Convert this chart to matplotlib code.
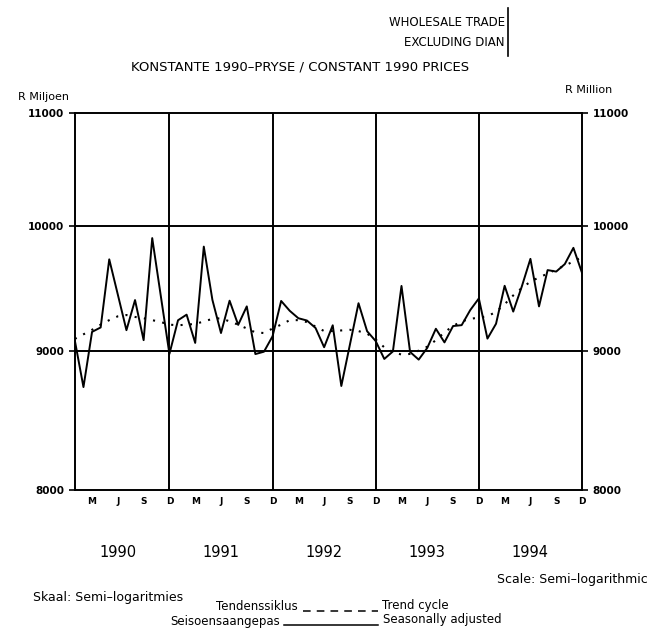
import numpy as np
import matplotlib
matplotlib.use("Agg")
import matplotlib.pyplot as plt
from matplotlib.lines import Line2D
from matplotlib.ticker import FixedLocator, FixedFormatter, NullLocator

FIG_SIZE = (6.51, 6.29)
W, H = 651, 629

years = ["1990", "1991", "1992", "1993", "1994"]
month_labels = ["M", "J", "S", "D"]
y_ticks = [8000, 9000, 10000, 11000]

# monthly values Jan 1990 - Dec 1994, R million
seasonally_adjusted = [
    9076, 8727, 9144, 9178, 9722, 9436, 9157, 9393, 9080, 9898, 9425, 8975,
    9234, 9278, 9059, 9827, 9395, 9135, 9388, 9198, 9343, 8974, 8992, 9110,
    9386, 9308, 9250, 9232, 9174, 9026, 9195, 8735, 9046, 9368, 9149, 9073,
    8937, 8994, 9506, 8990, 8932, 9021, 9168, 9063, 9189, 9196, 9314, 9406,
    9092, 9207, 9507, 9302, 9502, 9726, 9343, 9634, 9622, 9683, 9817, 9612,
]
trend_cycle = [
    9090, 9125, 9160, 9200, 9235, 9265, 9275, 9260, 9250, 9235, 9220, 9200,
    9195, 9200, 9205, 9225, 9245, 9250, 9225, 9200, 9170, 9140, 9135, 9170,
    9200, 9235, 9235, 9220, 9185, 9150, 9150, 9155, 9160, 9150, 9130, 9085,
    9025, 8990, 8970, 8975, 9000, 9030, 9080, 9140, 9190, 9225, 9245, 9255,
    9265, 9300, 9360, 9430, 9490, 9540, 9575, 9605, 9640, 9670, 9705, 9740,
]

months = np.arange(len(seasonally_adjusted))


def px(x, y):
    # pixel position -> figure fraction
    return x / W, 1 - y / H


fig = plt.figure(figsize=FIG_SIZE, dpi=100)
ax = fig.add_axes([0.115, 0.221, 0.779, 0.599])

ax.plot(months, seasonally_adjusted, color="black", lw=1.4)
ax.plot(months, trend_cycle, color="black", lw=1.5, linestyle=(0, (1, 3.5)))

ax.set_yscale("log")
ax.set_ylim(8000, 11000)
ax.set_xlim(0, len(months) - 1)
ax.yaxis.set_major_locator(FixedLocator(y_ticks))
ax.yaxis.set_major_formatter(FixedFormatter([str(v) for v in y_ticks]))
ax.yaxis.set_minor_locator(NullLocator())
ax.tick_params(axis="y", left=True, right=True, labelleft=True, labelright=True,
               length=4, width=1.2, labelsize=7.5)
for lab in ax.get_yticklabels():
    lab.set_fontweight("bold")

# month letters under the axis
tick_pos = [m for m in months if m % 3 == 2]
ax.xaxis.set_major_locator(FixedLocator(tick_pos))
ax.xaxis.set_major_formatter(FixedFormatter([month_labels[i % 4] for i in range(len(tick_pos))]))
ax.tick_params(axis="x", length=0, labelsize=6.5, pad=5)
for lab in ax.get_xticklabels():
    lab.set_fontweight("bold")

for sp in ax.spines.values():
    sp.set_linewidth(1.4)

# grid: December of each year and the 9000 / 10000 levels
for k in range(len(years) - 1):
    ax.axvline(11 + 12 * k, color="black", lw=1.4)
for v in y_ticks[1:-1]:
    ax.axhline(v, color="black", lw=1.4)

# year labels
for k, yr in enumerate(years):
    ax.text(5.0 + 12 * k, -0.165, yr, transform=ax.get_xaxis_transform(),
            ha="center", va="center", fontsize=10.5)

fig.text(*px(18, 97), "R Miljoen", fontsize=8, va="center", ha="left")
fig.text(*px(612, 90), "R Million", fontsize=8, va="center", ha="right")

fig.text(*px(505, 22), "WHOLESALE TRADE", fontsize=8.5, ha="right", va="center")
fig.text(*px(505, 42), "EXCLUDING DIAN", fontsize=8.5, ha="right", va="center")
fig.add_artist(Line2D([508 / W, 508 / W], [1 - 8 / H, 1 - 56 / H], color="black", lw=1.2))
fig.text(*px(300, 67), "KONSTANTE 1990\u2013PRYSE / CONSTANT 1990 PRICES",
         fontsize=9.5, ha="center", va="center")

fig.text(*px(648, 580), "Scale: Semi\u2013logarithmic", fontsize=9, ha="right", va="center")
fig.text(*px(33, 597), "Skaal: Semi\u2013logaritmies", fontsize=9, ha="left", va="center")

# key
fig.text(*px(298, 607), "Tendenssiklus", fontsize=8.5, ha="right", va="center")
fig.add_artist(Line2D([303 / W, 378 / W], [1 - 611 / H] * 2, color="black", lw=1.1,
                      linestyle=(0, (5, 4))))
fig.text(*px(382, 606), "Trend cycle", fontsize=8.5, ha="left", va="center")
fig.text(*px(280, 621), "Seisoensaangepas", fontsize=8.5, ha="right", va="center")
fig.add_artist(Line2D([284 / W, 378 / W], [1 - 625 / H] * 2, color="black", lw=1.1))
fig.text(*px(383, 619), "Seasonally adjusted", fontsize=8.5, ha="left", va="center")

plt.savefig("out.png", dpi=100)
